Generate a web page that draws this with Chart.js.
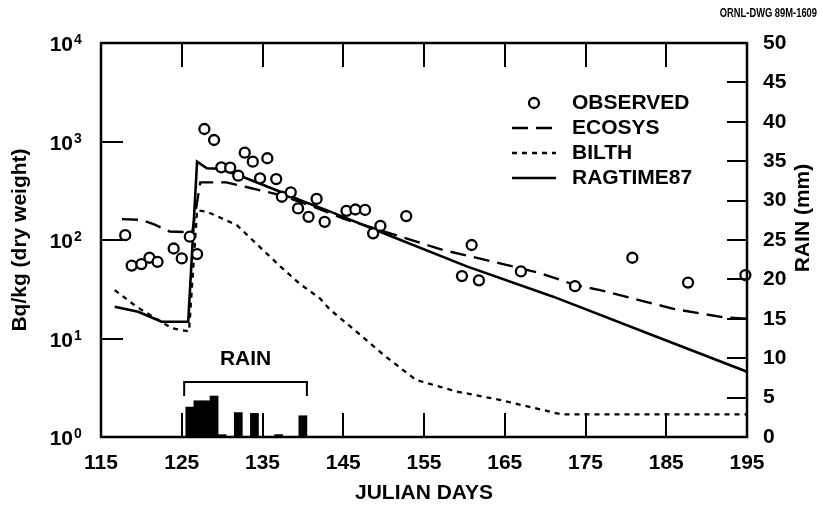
<!DOCTYPE html>
<html>
<head>
<meta charset="utf-8">
<script src="https://cdn.jsdelivr.net/npm/chart.js@4.4.1/dist/chart.umd.min.js"></script>
<style>
  body { margin: 0; background: #fff; }
  #wrap { width: 823px; height: 511px; position: relative; }
</style>
</head>
<body>
<div id="wrap"><canvas id="chart"></canvas></div>
<script>
// Observed concentrations (Bq/kg dry weight)
const obsDays = [118, 118.8, 120, 121, 122, 124, 125, 126, 126.9, 127.8, 129, 129.9, 131, 132, 132.8, 133.8, 134.7, 135.6, 136.7, 137.4, 138.5, 139.4, 140.7, 141.7, 142.7, 145.4, 146.5, 147.7, 148.7, 149.6, 152.8, 159.7, 160.9, 161.8, 167, 173.7, 180.8, 187.7, 194.8];
const obsValues = [112, 55, 57, 66, 60, 82, 65, 108, 72, 1340, 1036, 547, 542, 450, 770, 624, 423, 676, 415, 275, 305, 209, 172, 261, 153, 198, 204, 202, 117, 139, 175, 43, 89, 39, 48, 34, 66, 37, 44];

// Model curves
const ecosysDays = [117.6, 120, 121.5, 123.5, 126.3, 127.3, 130.5, 133, 137.2, 141.3, 145, 150.8, 157.4, 164.4, 169.4, 173.7, 176.8, 185.9, 192.1, 195];
const ecosysValues = [163, 160, 145, 122, 120, 385, 385, 345, 286, 218, 165, 117, 79, 58, 46, 35, 31, 20, 16.4, 15.9];

const bilthDays = [116.7, 119.4, 121.5, 123.8, 125.9, 126.9, 128.1, 131.8, 137.2, 139.6, 142.1, 143.4, 146, 150, 154, 159, 164.2, 170.7, 172, 195];
const bilthValues = [31, 21, 16.5, 12.7, 11.8, 200, 194, 142, 54, 36, 25.6, 19.5, 13, 6.8, 3.8, 2.9, 2.4, 1.8, 1.7, 1.7];

const ragtimeDays = [116.7, 119.6, 122.5, 125.8, 126.9, 128.1, 129.7, 133, 137.2, 139.6, 143.4, 150, 160.3, 171, 183.8, 195];
const ragtimeValues = [21, 18.7, 14.8, 14.8, 624, 535, 530, 423, 309, 255, 194, 117, 54, 26.6, 10.4, 4.6];

// Daily rain (mm)
const rainDays = [126, 127, 128, 129, 130, 132, 134, 137, 140];
const rainMm = [3.8, 4.6, 4.6, 5.2, 0.3, 3.1, 3.0, 0.3, 2.7];
const rainPeriod = [125.3, 140.5];

// Axes
const xTicks = [115, 125, 135, 145, 155, 165, 175, 185, 195];
const rainTicks = [0, 5, 10, 15, 20, 25, 30, 35, 40, 45, 50];
const logTicks = [1, 10, 100, 1000, 10000];
const logExponents = ['0', '1', '2', '3', '4'];

const legendLabels = ['OBSERVED', 'ECOSYS', 'BILTH', 'RAGTIME87'];

const FONT = '"Liberation Sans", Arial, sans-serif';

const pts = (xs, ys) => xs.map((x, i) => ({ x: x, y: ys[i] }));

// Frame, inward ticks, log labels, legend and rain bracket
const decorations = {
    id: 'decorations',
    afterDraw(chart) {
        const c = chart.ctx;
        const area = chart.chartArea;
        const xs = chart.scales.x;
        const ys = chart.scales.y;
        const rs = chart.scales.y2;
        c.save();
        c.setLineDash([]);
        c.strokeStyle = '#000';
        c.fillStyle = '#000';
        c.lineWidth = 2.5;
        c.strokeRect(area.left, area.top, area.right - area.left, area.bottom - area.top);

        // inward tick marks
        xTicks.slice(1, -1).forEach(v => {
            const px = Math.round(xs.getPixelForValue(v));
            c.fillRect(px - 1, area.bottom - 24, 2, 24);
            c.fillRect(px - 1, area.top, 2, 24);
        });
        logTicks.slice(1, -1).forEach(v => {
            const py = Math.round(ys.getPixelForValue(v));
            c.fillRect(area.left, py - 1, 22, 2);
        });
        rainTicks.slice(1, -1).forEach(v => {
            const py = Math.round(rs.getPixelForValue(v));
            c.fillRect(area.right - 20, py - 1, 20, 2);
        });

        // 10^n labels
        logTicks.forEach((v, i) => {
            const py = ys.getPixelForValue(v);
            c.font = 'bold 21px ' + FONT;
            c.textAlign = 'right';
            c.textBaseline = 'alphabetic';
            c.fillText('10', 73, py + 8);
            c.font = 'bold 14px ' + FONT;
            c.textAlign = 'left';
            c.fillText(logExponents[i], 74, py + 1);
        });

        // right axis title, reading upwards
        c.save();
        c.translate(803, 218);
        c.rotate(-Math.PI / 2);
        c.font = 'bold 21px ' + FONT;
        c.textAlign = 'center';
        c.textBaseline = 'middle';
        c.fillText('RAIN (mm)', 0, 0);
        c.restore();

        // rain period bracket
        const bx0 = xs.getPixelForValue(rainPeriod[0]);
        const bx1 = xs.getPixelForValue(rainPeriod[1]);
        const bt = area.bottom - 55;
        c.lineWidth = 2;
        c.beginPath();
        c.moveTo(bx0, bt + 14);
        c.lineTo(bx0, bt);
        c.lineTo(bx1, bt);
        c.lineTo(bx1, bt + 14);
        c.stroke();
        c.font = 'bold 21px ' + FONT;
        c.textAlign = 'center';
        c.textBaseline = 'middle';
        c.fillText('RAIN', (bx0 + bx1) / 2, area.bottom - 78);

        // legend
        const ds = chart.data.datasets;
        legendLabels.forEach((label, i) => {
            const ly = 103 + i * 25;
            const d = ds[i];
            if (i === 0) {
                c.beginPath();
                c.lineWidth = d.pointBorderWidth;
                c.fillStyle = '#fff';
                c.arc(534, ly, d.pointRadius, 0, Math.PI * 2);
                c.fill();
                c.stroke();
                c.fillStyle = '#000';
            } else {
                c.beginPath();
                c.lineWidth = d.borderWidth;
                c.setLineDash(d.borderDash || []);
                c.moveTo(512, ly);
                c.lineTo(556, ly);
                c.stroke();
                c.setLineDash([]);
            }
            c.font = 'bold 21px ' + FONT;
            c.textAlign = 'left';
            c.textBaseline = 'middle';
            c.fillText(label, 572, ly);
        });

        // drawing number, condensed
        c.save();
        c.translate(817, 17);
        c.scale(0.78, 1);
        c.font = 'bold 12px ' + FONT;
        c.textAlign = 'right';
        c.textBaseline = 'alphabetic';
        c.fillText('ORNL-DWG 89M-1609', 0, 0);
        c.restore();
        c.restore();
    }
};

const chart = new Chart(document.getElementById('chart'), {
    type: 'line',
    data: {
        datasets: [{
            type: 'scatter',
            label: legendLabels[0],
            data: pts(obsDays, obsValues),
            yAxisID: 'y',
            pointRadius: 5,
            pointBorderWidth: 2.3,
            pointBackgroundColor: '#fff',
            pointBorderColor: '#000',
            showLine: false,
            clip: false
        }, {
            label: legendLabels[1],
            data: pts(ecosysDays, ecosysValues),
            yAxisID: 'y',
            borderColor: '#000',
            borderWidth: 2.4,
            borderDash: [16, 8],
            pointRadius: 0,
            tension: 0
        }, {
            label: legendLabels[2],
            data: pts(bilthDays, bilthValues),
            yAxisID: 'y',
            borderColor: '#000',
            borderWidth: 2.3,
            borderDash: [5, 5],
            pointRadius: 0,
            tension: 0
        }, {
            label: legendLabels[3],
            data: pts(ragtimeDays, ragtimeValues),
            yAxisID: 'y',
            borderColor: '#000',
            borderWidth: 2.6,
            pointRadius: 0,
            tension: 0
        }, {
            type: 'bar',
            label: 'RAIN',
            data: pts(rainDays, rainMm),
            yAxisID: 'y2',
            backgroundColor: '#000',
            barPercentage: 1,
            categoryPercentage: 1
        }]
    },
    options: {
        responsive: true,
        maintainAspectRatio: false,
        animation: false,
        layout: { padding: { top: 43, left: 0, right: 0, bottom: 0 } },
        plugins: {
            legend: { display: false },
            tooltip: { enabled: false }
        },
        scales: {
            x: {
                type: 'linear',
                offset: false,
                min: 115,
                max: 195,
                afterBuildTicks: s => { s.ticks = xTicks.map(v => ({ value: v })); },
                afterFit: s => { s.height = 74; },
                grid: { display: false, drawTicks: false, offset: false },
                border: { display: false },
                ticks: { color: '#000', padding: 14, font: { family: FONT, size: 21, weight: 'bold' } },
                title: {
                    display: true,
                    text: 'JULIAN DAYS',
                    color: '#000',
                    font: { family: FONT, size: 21, weight: 'bold' },
                    padding: { top: 0, bottom: 5 }
                }
            },
            y: {
                type: 'logarithmic',
                position: 'left',
                min: 1,
                max: 10000,
                afterFit: s => { s.width = 101; },
                grid: { display: false, drawTicks: false },
                border: { display: false },
                ticks: { display: false },
                title: {
                    display: true,
                    text: 'Bq/kg (dry weight)',
                    color: '#000',
                    font: { family: FONT, size: 21, weight: 'bold' },
                    padding: { top: 8, bottom: 0 }
                }
            },
            y2: {
                type: 'linear',
                position: 'right',
                min: 0,
                max: 50,
                afterBuildTicks: s => { s.ticks = rainTicks.map(v => ({ value: v })); },
                afterFit: s => { s.width = 76; },
                grid: { display: false, drawTicks: false },
                border: { display: false },
                ticks: { color: '#000', padding: 16, font: { family: FONT, size: 21, weight: 'bold' } }
            }
        }
    },
    plugins: [decorations]
});
</script>
</body>
</html>
